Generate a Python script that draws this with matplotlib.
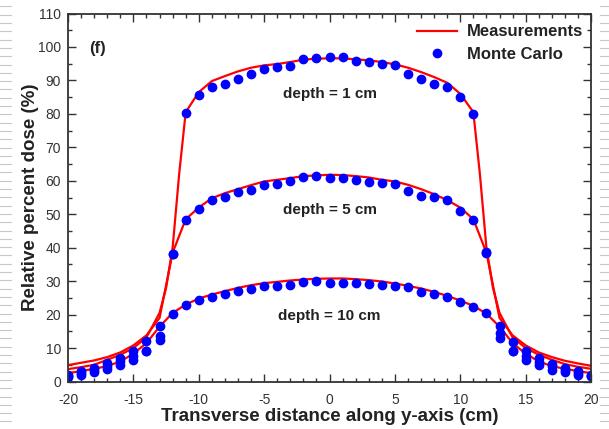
"""Transverse dose profiles: measurements vs Monte Carlo at three depths."""

import matplotlib
matplotlib.use("Agg")
import matplotlib.pyplot as plt
from matplotlib.lines import Line2D
from matplotlib.ticker import MultipleLocator

plt.rcParams["font.family"] = ["Liberation Sans", "DejaVu Sans"]
plt.rcParams["axes.unicode_minus"] = False

# Monte Carlo points (one per cm)
mc_x = list(range(-20, 21))
mc_1cm = [1.3, 2.0, 2.7, 3.7, 4.8, 6.3, 9.0, 12.4, 38.0, 80.4,
          85.6, 88.1, 89.0, 90.5, 91.9, 93.4, 94.1, 94.3, 96.5, 96.7,
          97.0, 96.9, 95.7, 95.5, 95.0, 94.5, 91.9, 90.5, 88.8, 88.1,
          85.1, 80.1, 38.5, 12.9, 9.0, 6.3, 4.8, 3.5, 2.7, 2.0, 1.5]
mc_5cm = [1.7, 2.5, 3.3, 4.5, 6.0, 7.5, 9.0, 13.7, 38.1, 48.2,
          51.7, 54.3, 55.3, 56.5, 57.2, 58.7, 59.1, 59.9, 61.2, 61.5,
          60.9, 60.7, 60.1, 59.7, 59.4, 59.1, 56.9, 55.6, 55.3, 54.2,
          51.0, 48.3, 38.6, 14.4, 9.0, 7.5, 5.7, 4.5, 3.3, 2.5, 1.7]
mc_10cm = [2.0, 3.0, 4.0, 5.5, 7.0, 9.0, 12.0, 16.7, 20.2, 22.8,
           24.4, 25.4, 26.1, 27.1, 27.8, 28.6, 28.6, 28.9, 29.6, 29.9,
           29.4, 29.4, 29.3, 29.2, 28.8, 28.6, 28.2, 26.7, 26.2, 25.4,
           23.9, 22.4, 20.4, 16.7, 11.9, 9.2, 7.0, 5.2, 4.0, 3.0, 2.0]

# Measured profiles (finer sampling in the 1 cm penumbra)
meas_x_1cm = [-20, -19, -18, -17, -16, -15, -14, -13, -12.5, -12, -11.5,
              -11, -10, -9, -8, -7, -6, -5, -4, -3, -2, -1, 0, 1, 2, 3,
              4, 5, 6, 7, 8, 9, 10, 11, 11.5, 12, 12.5, 13, 14, 15, 16,
              17, 18, 19, 20]
meas_1cm = [3.7, 4.3, 5.0, 6.5, 8.0, 10.0, 13.2, 20.5, 28.0, 40.0, 62.0,
            80.5, 86.5, 89.8, 91.3, 92.7, 93.8, 94.5, 94.9, 95.5, 96.2,
            96.5, 96.6, 96.6, 96.3, 96.0, 95.5, 94.8, 93.8, 92.5, 91.0,
            89.3, 86.0, 80.5, 62.0, 40.0, 28.0, 20.5, 13.2, 10.0, 8.0,
            6.5, 5.2, 4.4, 3.8]
meas_x = list(range(-20, 21))
meas_5cm = [4.9, 5.6, 6.3, 7.3, 8.7, 10.8, 13.8, 19.0, 38.5, 48.5,
            52.0, 54.8, 56.3, 57.5, 58.7, 59.8, 60.3, 60.8, 61.4, 61.6,
            61.8, 61.7, 61.4, 61.0, 60.3, 59.8, 58.8, 57.5, 56.0, 54.2,
            52.0, 48.5, 38.5, 19.0, 13.8, 10.8, 8.7, 7.3, 6.2, 5.4, 4.7]
meas_10cm = [2.5, 3.1, 3.8, 4.6, 6.0, 8.3, 11.5, 16.4, 20.5, 23.0,
             24.8, 26.0, 27.0, 28.0, 28.8, 29.4, 29.8, 30.2, 30.5, 30.7,
             30.8, 30.8, 30.6, 30.3, 29.9, 29.3, 28.6, 27.8, 26.8, 25.6,
             24.2, 22.6, 20.3, 16.4, 11.5, 8.3, 6.0, 4.6, 3.8, 3.1, 2.5]

depth_labels = ["depth = 1 cm", "depth = 5 cm", "depth = 10 cm"]
depth_label_y = [85.8, 51.2, 19.7]

RED = "#ff0000"
BLUE = "#0000ff"
AXIS_COLOR = "#333333"


def add_slide_edges(fig) -> None:
    """Draw the light dashed slide border seen at both sides of the image."""
    y = 0.985
    while y > 0.0:
        for x0, x1 in ((0.0, 0.018), (0.986, 1.0)):
            fig.add_artist(Line2D([x0, x1], [y, y], transform=fig.transFigure,
                                  color="#c8c8c8", lw=0.8))
        y -= 8.3 / 429


def main() -> None:
    fig = plt.figure(figsize=(6.09, 4.29), dpi=100)
    ax = fig.add_axes([0.1117, 0.1107, 0.8588, 0.8578])

    ax.plot(meas_x_1cm, meas_1cm, color=RED, lw=1.6, label="Measurements")
    ax.plot(meas_x, meas_5cm, color=RED, lw=1.6)
    ax.plot(meas_x, meas_10cm, color=RED, lw=1.6)

    for i, series in enumerate((mc_1cm, mc_5cm, mc_10cm)):
        ax.plot(mc_x, series, linestyle="none", marker="o", ms=6,
                color=BLUE, mec=BLUE, label="Monte Carlo" if i == 0 else None)

    for text, y in zip(depth_labels, depth_label_y):
        ax.text(0, y, text, ha="center", va="center", fontsize=11,
                fontweight="bold", color="#222222")
    ax.text(-18.4, 99.5, "(f)", ha="left", va="center", fontsize=12,
            fontweight="bold", color="#222222")

    ax.set_xlim(-20, 20)
    ax.set_ylim(0, 110)
    ax.xaxis.set_major_locator(MultipleLocator(5))
    ax.xaxis.set_minor_locator(MultipleLocator(1))
    ax.yaxis.set_major_locator(MultipleLocator(10))
    ax.yaxis.set_minor_locator(MultipleLocator(5))
    ax.tick_params(which="both", direction="in", top=True, right=True,
                   color=AXIS_COLOR, width=1.0)
    ax.tick_params(which="major", length=6, labelsize=10,
                   labelcolor=AXIS_COLOR, pad=5)
    ax.tick_params(axis="x", which="major", pad=8)
    ax.tick_params(which="minor", length=3)
    for spine in ax.spines.values():
        spine.set_color(AXIS_COLOR)
        spine.set_linewidth(1.3)

    ax.set_xlabel("Transverse distance along y-axis (cm)", fontsize=13.5,
                  fontweight="bold", color="#222222", labelpad=1)
    ax.set_ylabel("Relative percent dose (%)", fontsize=13.5,
                  fontweight="bold", color="#222222", labelpad=-1)

    leg = ax.legend(loc="upper right", frameon=False, fontsize=12,
                    handlelength=2.4, handletextpad=0.6, labelspacing=0.45,
                    borderaxespad=0.35, borderpad=0.3,
                    bbox_to_anchor=(1.005, 1.0))
    for t in leg.get_texts():
        t.set_fontweight("bold")
        t.set_color("#222222")

    add_slide_edges(fig)
    fig.savefig("out.png", dpi=100)
    plt.close(fig)


if __name__ == "__main__":
    main()
